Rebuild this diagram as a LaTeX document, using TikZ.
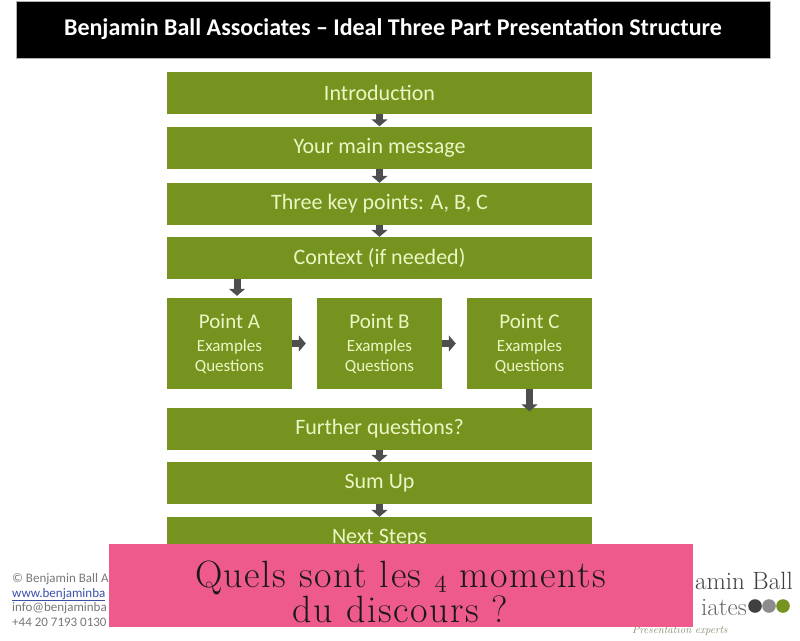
\documentclass[tikz,border=0pt]{standalone}
\usepackage{fontspec}
\setsansfont{Carlito}
\newfontfamily\bannerfont{Latin Modern Roman}[LetterSpace=4]
\usetikzlibrary{arrows.meta,calc}
\definecolor{boxgreen}{RGB}{119,147,31}
\definecolor{boxtext}{RGB}{236,246,196}
\definecolor{arrgray}{RGB}{78,78,78}
\definecolor{bannerpink}{RGB}{238,90,139}
\definecolor{foot}{RGB}{120,120,120}
\definecolor{linkblue}{RGB}{60,80,170}
\definecolor{tagcol}{RGB}{125,140,105}
\newcommand{\osfour}{{\usefont{OML}{cmm}{m}{it}4}}

\tikzset{
  bar/.style={fill=black, draw=gray!60, line width=1pt, text=white,
    minimum width=754pt, minimum height=57pt, inner sep=0pt,
    font=\sffamily\bfseries\fontsize{24}{28}\selectfont},
  wide/.style={fill=boxgreen, text=boxtext, minimum width=425pt,
    minimum height=42pt, inner sep=0pt,
    font=\sffamily\fontsize{22}{26}\selectfont},
  point/.style={fill=boxgreen, text=boxtext, minimum width=125pt,
    minimum height=91pt, inner sep=0pt, align=center,
    font=\sffamily\fontsize{17}{20}\selectfont},
  blk/.style={draw=arrgray, line width=7pt,
    -{Triangle[width=16pt,length=7pt]}},
  footline/.style={anchor=base west, inner sep=0pt, text=foot,
    font=\sffamily\fontsize{13}{15}\selectfont},
  logo/.style={anchor=base east, inner sep=0pt,
    font=\fontsize{25}{28}\selectfont}
}

\begin{document}
\begin{tikzpicture}[x=1pt,y=-1pt]
    \useasboundingbox[fill=white] (0,0) rectangle (800,640);

    \node[bar] (title) at (393,29.5)
      {Benjamin Ball Associates -- Ideal Three Part Presentation Structure};

    % main column
    \node[wide] (intro) at (379.5,93)  {Introduction};
    \node[wide] (msg)   at (379.5,147.5) {Your main message};
    \node[wide] (keys)  at (379.5,204) {Three key points: A, B, C};
    \node[wide] (ctx)   at (379.5,258) {Context (if needed)};

    \foreach \p/\x in {A/229.5,B/379.5,C/529.5} {
      \node[point] (p\p) at (\x,343.5)
        {{\fontsize{21}{24}\selectfont Point \p}\\[3pt] Examples\\ Questions};
    }

    \node[wide] (fq)  at (379.5,428.5) {Further questions?};
    \node[wide] (sum) at (379.5,483)   {Sum Up};
    \node[wide] (nxt) at (379.5,538)   {Next Steps};

    \foreach \a/\b in {intro/msg,msg/keys,keys/ctx,fq/sum,sum/nxt}
      \draw[blk] (\a.south) -- (\b.north);

    \draw[blk] ([xshift=7.5pt]pA.north |- ctx.south) -- ([xshift=7.5pt,yshift=2pt]pA.north);
    \draw[blk] (pA.east) -- ([xshift=-11pt]pB.west);
    \draw[blk] (pB.east) -- ([xshift=-11pt]pC.west);
    \draw[blk] (pC.south) -- ([yshift=-4pt]pC.south |- fq.north);

    % footer left
    \node[footline] (copy) at (12,582) {© Benjamin Ball A};
    \node[footline,text=linkblue] (web) at (12,597) {\underline{www.benjaminba}};
    \node[footline] (mail) at (12,611) {info@benjaminba};
    \node[footline] (tel)  at (12,626) {+44 20 7193 0130};

    % logo right
    \node[logo, text=black!75] (logoA) at (793,589) {amin Ball};
    \node[logo, text=black!60] (logoB) at (747,615) {iates};
    \foreach \x/\c in {755/black!75,769/black!45,783/boxgreen}
      \fill[\c] (\x,606) circle (6.8);
    \node[anchor=base west, inner sep=0pt, text=tagcol,
      font=\itshape\fontsize{11}{13}\selectfont] (tag) at (632,633) {Presentation experts};

    % banner
    \node[fill=bannerpink, minimum width=584pt, minimum height=83pt,
      inner sep=0pt] (banner) at (400.5,585.5) {};
    \node[align=center, inner sep=0pt, text=black!90,
      font=\bannerfont\fontsize{38}{33}\selectfont] (question)
      at ([yshift=-6pt]banner.center)
      {Quels sont les \osfour{} moments\\du discours ?};
\end{tikzpicture}
\end{document}
